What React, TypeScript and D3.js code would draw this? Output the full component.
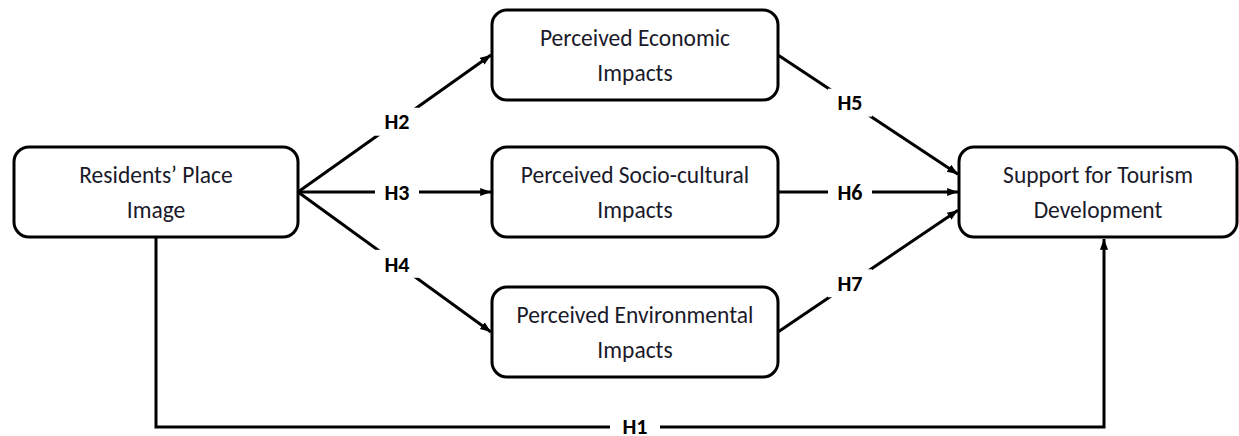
import * as d3 from "d3";

// constructs in the path model
const nodeIds = ["rpi", "eco", "soc", "env", "sup"];
const nodeLines = [
  ["Residents\u2019 Place", "Image"],
  ["Perceived Economic", "Impacts"],
  ["Perceived Socio-cultural", "Impacts"],
  ["Perceived Environmental", "Impacts"],
  ["Support for Tourism", "Development"],
];
const nodeCol = [0, 1, 1, 1, 2];
const nodeRow = [1, 0, 1, 2, 1];

// hypothesised paths
const pathLabels = ["H2", "H3", "H4", "H5", "H6", "H7"];
const pathFrom = ["rpi", "rpi", "rpi", "eco", "soc", "env"];
const pathTo = ["eco", "soc", "env", "sup", "sup", "sup"];
const directLabel = "H1";

const W = 1239;
const H = 436;

const colX = d3.scaleOrdinal<number, number>().domain([0, 1, 2]).range([14, 492, 959]);
const colW = d3.scaleOrdinal<number, number>().domain([0, 1, 2]).range([284, 286, 278]);
const rowY = d3.scaleOrdinal<number, number>().domain([0, 1, 2]).range([10, 147, 287]);
const boxH = 90;

const nodes = nodeIds.map((id, i) => {
  const x = colX(nodeCol[i]);
  const y = rowY(nodeRow[i]);
  const w = colW(nodeCol[i]);
  return { id, lines: nodeLines[i], x, y, w, h: boxH, cx: x + w / 2, cy: y + boxH / 2 };
});
const byId = new Map(nodes.map((n) => [n.id, n]));

const font = "Calibri, Carlito, 'Liberation Sans', Arial, sans-serif";

export default function App() {
  const sup = byId.get("sup")!;
  const rpi = byId.get("rpi")!;

  const edges = pathLabels.map((lab, i) => {
    const a = byId.get(pathFrom[i])!;
    const b = byId.get(pathTo[i])!;
    const x1 = a.x + a.w;
    const y1 = a.cy;
    const x2 = b.x - 1;
    // converging arrows land spread on the target box
    const spread = b.id === "sup" ? (a.cy - b.cy) * 0.13 : 0;
    const y2 = b.cy + spread;
    const lx = b.id === "sup" ? 850 : 397;
    const t = (lx - x1) / (x2 - x1);
    return { lab, x1, y1, x2, y2, lx, ly: y1 + t * (y2 - y1) };
  });

  const bottomY = 427;
  const h1X = sup.cx + 6;
  const h1Line = d3.line()([
    [rpi.cx, rpi.y + rpi.h],
    [rpi.cx, bottomY],
    [h1X, bottomY],
    [h1X, sup.y + sup.h + 2],
  ]);

  return (
    <svg width={W} height={H} style={{ position: "absolute", left: 0, top: 0, background: "#fff" }}>
      <defs>
        <marker id="arr" viewBox="0 0 10 10" refX={10} refY={5} markerWidth={3.6} markerHeight={3.6} orient="auto" markerUnits="strokeWidth">
          <path d="M0,1.2 L10,5 L0,8.8 z" fill="#000" />
        </marker>
      </defs>

      <path d={h1Line!} fill="none" stroke="#000" strokeWidth={3} markerEnd="url(#arr)" />
      <rect x={610} y={bottomY - 12} width={50} height={24} fill="#fff" />
      <text x={635} y={bottomY - 1} dy="0.35em" textAnchor="middle" fontFamily={font} fontWeight="bold" fontSize={22}>
        {directLabel}
      </text>

      {edges.map((e) => (
        <g key={e.lab}>
          <line x1={e.x1} y1={e.y1} x2={e.x2} y2={e.y2} stroke="#000" strokeWidth={3} markerEnd="url(#arr)" />
          <rect x={e.lx - 22} y={e.ly - 14} width={44} height={28} fill="#fff" />
          <text x={e.lx} y={e.ly} dy="0.35em" textAnchor="middle" fontFamily={font} fontWeight="bold" fontSize={22}>
            {e.lab}
          </text>
        </g>
      ))}

      {nodes.map((n) => (
        <g key={n.id}>
          <rect x={n.x} y={n.y} width={n.w} height={n.h} rx={15} ry={15} fill="#fff" stroke="#000" strokeWidth={3} />
          {n.lines.map((l, j) => (
            <text
              key={j}
              x={n.cx}
              y={n.cy + (j === 0 ? -17 : 18)}
              dy="0.35em"
              textAnchor="middle"
              fontFamily={font}
              fontSize={23.5}
              fill="#1a1a2a"
            >
              {l}
            </text>
          ))}
        </g>
      ))}
    </svg>
  );
}
